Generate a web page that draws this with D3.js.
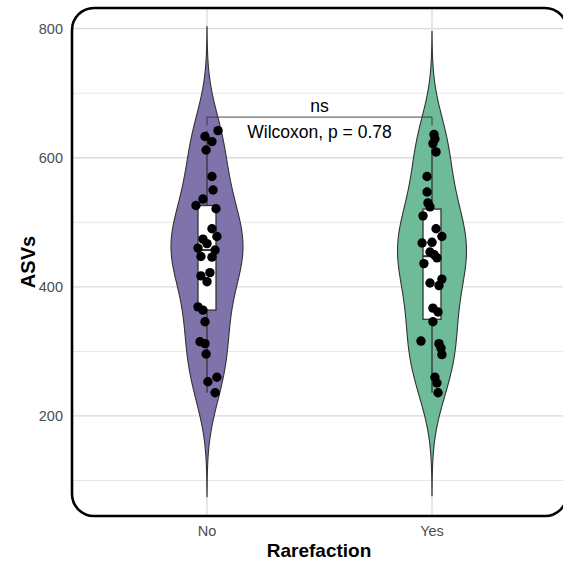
<!DOCTYPE html>
<html>
<head>
<meta charset="utf-8">
<script src="https://cdn.jsdelivr.net/npm/d3@7"></script>
<style>
  body { margin: 0; background: #fff; }
  text { font-family: "Liberation Sans", Arial, Helvetica, sans-serif; }
</style>
</head>
<body>
<svg id="chart" width="563" height="565"></svg>
<script>
(function () {
    'use strict';

    // data
    const groups = ["No", "Yes"];
    const asvsNo = [642, 633, 625, 612, 571, 550, 536, 526, 521, 490, 478, 474, 467, 460, 457,
                    447, 446, 417, 422, 408, 369, 364, 346, 315, 312, 296, 260, 253, 236];
    const asvsYes = [636, 629, 622, 609, 571, 547, 530, 524, 510, 490, 478, 468, 469, 454, 450,
                     445, 436, 412, 406, 402, 367, 361, 346, 316, 312, 305, 295, 260, 251, 236];
    // horizontal jitter, in category units
    const jitterNo = [0.049, -0.009, 0.022, -0.004, 0.022, 0.027, -0.018, -0.049, 0.040, 0.022,
                      0.044, -0.018, 0, -0.040, 0.036, -0.027, 0.022, -0.027, 0.013, 0,
                      -0.040, -0.018, -0.009, -0.031, -0.009, -0.004, 0.044, 0.004, 0.036];
    const jitterYes = [0.009, 0.013, 0.004, 0.018, -0.022, -0.022, -0.018, -0.009, -0.040, 0.018,
                       0.044, -0.044, 0, -0.009, 0.009, 0.022, -0.036, 0.044, -0.009, 0.031,
                       0.004, 0.027, 0.004, -0.049, 0.031, 0.040, 0.044, 0.013, 0.022, 0.027];
    const yTicks = [200, 400, 600, 800];
    const yMinorTicks = [100, 300, 500, 700];
    const groupFills = ["#8073ac", "#6dbb99"];
    const sigLabel = "ns";
    const testLabel = "Wilcoxon, p = 0.78";

    const series = [
        {name: groups[0], values: asvsNo, jitter: jitterNo, fill: groupFills[0]},
        {name: groups[1], values: asvsYes, jitter: jitterYes, fill: groupFills[1]}
    ];

    const panel = {left: 72, right: 567, top: 8, bottom: 516};
    const violinWidth = 0.32;
    const boxWidth = 0.08;

    const svg = d3.select('#chart');

    const x = d3.scalePoint()
            .domain(groups)
            .range([panel.left, panel.right])
            .padding(0.6);
    const step = x.step();

    const y = d3.scaleLinear()
            .domain([45, 832])
            .range([panel.bottom, panel.top]);

    // kernel density like ggplot's geom_violin(trim = FALSE)
    const nrd0 = v => {
        const s = d3.deviation(v);
        const iqr = d3.quantile(v, 0.75) - d3.quantile(v, 0.25);
        return 0.9 * Math.min(s, iqr / 1.34) * Math.pow(v.length, -0.2);
    };

    series.forEach(s => {
        const sorted = s.values.slice().sort(d3.ascending);
        const bw = nrd0(sorted);
        const lo = sorted[0] - 3 * bw, hi = sorted[sorted.length - 1] + 3 * bw;
        const n = 512;
        s.density = d3.range(n).map(i => {
            const v = lo + (hi - lo) * i / (n - 1);
            const dens = d3.sum(sorted, d => Math.exp(-0.5 * ((v - d) / bw) ** 2)) /
                    (sorted.length * bw * Math.sqrt(2 * Math.PI));
            return {v: v, d: dens};
        });
        const q1 = d3.quantile(sorted, 0.25), q3 = d3.quantile(sorted, 0.75);
        const iqr = q3 - q1;
        s.box = {
            q1: q1,
            med: d3.quantile(sorted, 0.5),
            q3: q3,
            lo: d3.min(sorted.filter(d => d >= q1 - 1.5 * iqr)),
            hi: d3.max(sorted.filter(d => d <= q3 + 1.5 * iqr))
        };
    });

    const maxDens = d3.max(series, s => d3.max(s.density, d => d.d));

    // panel background + grid
    svg.append("rect")
            .attr("x", panel.left).attr("y", panel.top)
            .attr("width", panel.right - panel.left).attr("height", panel.bottom - panel.top)
            .attr("rx", 22)
            .attr("fill", "#fff");

    const grid = svg.append("g");
    grid.selectAll("line.minor")
            .data(yMinorTicks)
            .join("line")
            .attr("class", "minor")
            .attr("x1", panel.left).attr("x2", panel.right)
            .attr("y1", d => y(d)).attr("y2", d => y(d))
            .attr("stroke", "#e6e6e6").attr("stroke-width", 1);
    grid.selectAll("line.major")
            .data(yTicks)
            .join("line")
            .attr("class", "major")
            .attr("x1", panel.left).attr("x2", panel.right)
            .attr("y1", d => y(d)).attr("y2", d => y(d))
            .attr("stroke", "#dadada").attr("stroke-width", 1.3);
    grid.selectAll("line.xmajor")
            .data(groups)
            .join("line")
            .attr("class", "xmajor")
            .attr("x1", d => x(d)).attr("x2", d => x(d))
            .attr("y1", panel.top).attr("y2", panel.bottom)
            .attr("stroke", "#dadada").attr("stroke-width", 1.3);

    // violins
    const plot = svg.append("g");
    plot.selectAll("path.violin")
            .data(series)
            .join("path")
            .attr("class", "violin")
            .attr("fill", d => d.fill)
            .attr("stroke", "#333")
            .attr("stroke-width", 1.1)
            .attr("d", s => d3.area()
                    .x0(d => x(s.name) - d.d / maxDens * violinWidth / 2 * step)
                    .x1(d => x(s.name) + d.d / maxDens * violinWidth / 2 * step)
                    .y(d => y(d.v))(s.density));

    // boxplots
    const boxes = plot.selectAll("g.box")
            .data(series)
            .join("g")
            .attr("class", "box");
    boxes.append("line")
            .attr("x1", d => x(d.name)).attr("x2", d => x(d.name))
            .attr("y1", d => y(d.box.hi)).attr("y2", d => y(d.box.q3))
            .attr("stroke", "#333").attr("stroke-width", 1.3);
    boxes.append("line")
            .attr("x1", d => x(d.name)).attr("x2", d => x(d.name))
            .attr("y1", d => y(d.box.q1)).attr("y2", d => y(d.box.lo))
            .attr("stroke", "#333").attr("stroke-width", 1.3);
    boxes.append("rect")
            .attr("x", d => x(d.name) - boxWidth / 2 * step)
            .attr("width", boxWidth * step)
            .attr("y", d => y(d.box.q3))
            .attr("height", d => y(d.box.q1) - y(d.box.q3))
            .attr("fill", "#fff")
            .attr("stroke", "#333").attr("stroke-width", 1.3);
    boxes.append("line")
            .attr("x1", d => x(d.name) - boxWidth / 2 * step)
            .attr("x2", d => x(d.name) + boxWidth / 2 * step)
            .attr("y1", d => y(d.box.med)).attr("y2", d => y(d.box.med))
            .attr("stroke", "#333").attr("stroke-width", 2);

    // jittered points
    plot.selectAll("g.pts")
            .data(series)
            .join("g")
            .attr("class", "pts")
            .selectAll("circle")
            .data(s => s.values.map((v, i) => ({name: s.name, v: v, j: s.jitter[i]})))
            .join("circle")
            .attr("cx", d => x(d.name) + d.j * step)
            .attr("cy", d => y(d.v))
            .attr("r", 4.7)
            .attr("fill", "#000");

    // significance bracket
    const bracketY = 663, tipY = 650;
    const xa = x(groups[0]), xb = x(groups[1]);
    svg.append("path")
            .attr("d", `M${xa},${y(tipY)}V${y(bracketY)}H${xb}V${y(tipY)}`)
            .attr("fill", "none")
            .attr("stroke", "#333")
            .attr("stroke-width", 0.9);
    svg.append("text")
            .attr("x", (xa + xb) / 2).attr("y", y(bracketY) - 5)
            .attr("text-anchor", "middle")
            .attr("font-size", 17.5)
            .text(sigLabel);
    svg.append("text")
            .attr("x", (xa + xb) / 2).attr("y", y(bracketY) + 21)
            .attr("text-anchor", "middle")
            .attr("font-size", 17.5)
            .text(testLabel);

    // panel border
    svg.append("rect")
            .attr("x", panel.left).attr("y", panel.top)
            .attr("width", panel.right - panel.left).attr("height", panel.bottom - panel.top)
            .attr("rx", 22)
            .attr("fill", "none")
            .attr("stroke", "#000")
            .attr("stroke-width", 2.6);

    // axes labels
    svg.append("g").selectAll("text")
            .data(yTicks)
            .join("text")
            .attr("x", panel.left - 9)
            .attr("y", d => y(d))
            .attr("dy", "0.35em")
            .attr("text-anchor", "end")
            .attr("font-size", 14.5)
            .attr("fill", "#4d4d4d")
            .text(d => d);

    svg.append("g").selectAll("text")
            .data(groups)
            .join("text")
            .attr("x", d => x(d))
            .attr("y", panel.bottom + 20)
            .attr("text-anchor", "middle")
            .attr("font-size", 14.5)
            .attr("fill", "#4d4d4d")
            .text(d => d);

    svg.append("text")
            .attr("x", (panel.left + 567) / 2 - 0.5)
            .attr("y", 557)
            .attr("text-anchor", "middle")
            .attr("font-size", 19)
            .attr("font-weight", "bold")
            .text("Rarefaction");

    svg.append("text")
            .attr("transform", `translate(35,${(panel.top + panel.bottom) / 2}) rotate(-90)`)
            .attr("text-anchor", "middle")
            .attr("font-size", 20)
            .attr("font-weight", "bold")
            .text("ASVs");
}());
</script>
</body>
</html>
